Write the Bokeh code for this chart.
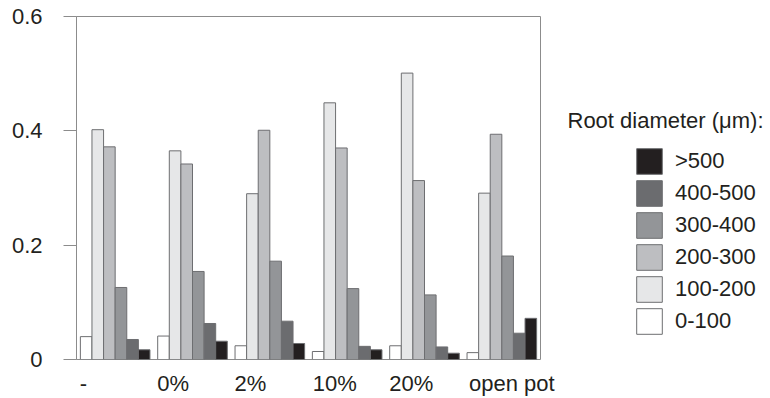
import numpy as np
from bokeh.plotting import figure
from bokeh.layouts import row
from bokeh.models import (ColumnDataSource, FixedTicker, Legend, LegendItem,
                          Label, Range1d)
from bokeh.transform import dodge
from bokeh.embed import file_html
from bokeh.resources import INLINE

# ---------------- data ----------------
treatments = ["-", "0%", "2%", "10%", "20%", "open pot"]
classes = ["0-100", "100-200", "200-300", "300-400", "400-500", ">500"]
d_0_100 = [0.040, 0.041, 0.024, 0.014, 0.024, 0.012]
d_100_200 = [0.402, 0.365, 0.290, 0.449, 0.501, 0.291]
d_200_300 = [0.372, 0.342, 0.401, 0.370, 0.313, 0.394]
d_300_400 = [0.126, 0.154, 0.172, 0.124, 0.113, 0.181]
d_400_500 = [0.035, 0.063, 0.067, 0.023, 0.022, 0.046]
d_gt_500 = [0.017, 0.032, 0.028, 0.017, 0.011, 0.072]
y_ticks = [0, 0.2, 0.4, 0.6]
y_tick_labels = ["0", "0.2", "0.4", "0.6"]
legend_title = "Root diameter (\u03bcm):"

series = [d_0_100, d_100_200, d_200_300, d_300_400, d_400_500, d_gt_500]

# ---------------- style / layout ----------------
colors = ["#ffffff", "#e6e7e8", "#bdbec1", "#939598", "#6b6c6f", "#231f20"]
edge = "#6d6e71"
axis_gray = "#8c8c8c"
txt = "#231f20"
font = "Liberation Sans"
fs = "22px"
bar_w = 0.15
label_pos = [0.09, 1.25, 2.25, 3.34, 4.33, 5.63]  # where the original put its x labels

n = len(treatments)
p = figure(width=560, height=398, x_range=Range1d(0, n), y_range=Range1d(0, 0.6),
           output_backend="svg", toolbar_location=None,
           min_border_left=76, min_border_right=20, min_border_top=16,
           min_border_bottom=38)
p.xgrid.visible = False
p.ygrid.visible = False
p.outline_line_color = axis_gray
p.outline_line_width = 1
p.background_fill_color = "white"
p.border_fill_color = "white"

centers = np.arange(n) + 0.5
renderers = []
for j, vals in enumerate(series):
    src = ColumnDataSource(dict(x=centers, top=vals))
    off = -3 * bar_w + bar_w / 2 + j * bar_w
    r = p.vbar(x=dodge("x", off), top="top", bottom=0, width=bar_w, source=src,
               fill_color=colors[j], line_color=edge, line_width=1)
    renderers.append(r)

# y axis
ya = p.yaxis[0]
ya.ticker = FixedTicker(ticks=y_ticks)
ya.major_label_overrides = {t: l for t, l in zip(y_ticks, y_tick_labels)}
ya.axis_line_color = axis_gray
ya.major_tick_line_color = axis_gray
ya.major_tick_in = 0
ya.major_tick_out = 13
ya.minor_tick_line_color = None
ya.major_label_standoff = 21
ya.major_label_text_font = font
ya.major_label_text_font_size = fs
ya.major_label_text_color = txt

# x axis
xa = p.xaxis[0]
xa.ticker = FixedTicker(ticks=label_pos)
xa.major_label_overrides = {t: l for t, l in zip(label_pos, treatments)}
xa.axis_line_color = None
xa.major_tick_line_color = None
xa.minor_tick_line_color = None
xa.major_tick_out = 0
xa.major_tick_in = 0
xa.major_label_standoff = 11
xa.major_label_text_font = font
xa.major_label_text_font_size = fs
xa.major_label_text_color = txt

# ---------------- legend panel (separate canvas on the right) ----------------
lw, lh = 210, 398
q = figure(width=lw, height=lh, x_range=Range1d(0, lw), y_range=Range1d(0, lh),
           output_backend="svg", toolbar_location=None,
           x_axis_location=None, y_axis_location=None,
           min_border=0, min_border_left=0, min_border_right=0,
           min_border_top=0, min_border_bottom=0)
q.xgrid.visible = False
q.ygrid.visible = False
q.outline_line_color = None
q.background_fill_color = "white"
q.border_fill_color = "white"

# legend proxies: one undrawable (NaN) bar each, carrying the series style
proxies = []
for j in range(len(classes)):
    psrc = ColumnDataSource(dict(x=[np.nan], top=[np.nan]))
    pr = q.vbar(x="x", top="top", bottom=0, width=1, source=psrc,
                fill_color=colors[j], line_color=edge, line_width=1)
    proxies.append(pr)

items = [LegendItem(label=classes[j], renderers=[proxies[j]])
         for j in reversed(range(len(classes)))]
legend = Legend(items=items, location=(73, 22), orientation="vertical",
                glyph_width=32, glyph_height=32, spacing=0, padding=0, margin=0,
                label_standoff=10, border_line_color=None,
                background_fill_alpha=0, label_text_font=font,
                label_text_font_size=fs, label_text_color=txt)
q.add_layout(legend, "center")

title = Label(x=7, y=277, text=legend_title, text_font=font,
              text_font_size=fs, text_color=txt, text_baseline="alphabetic",
              text_align="left")
q.add_layout(title)

layout = row(p, q, spacing=0)
open("out.html", "w").write(file_html(layout, INLINE))
